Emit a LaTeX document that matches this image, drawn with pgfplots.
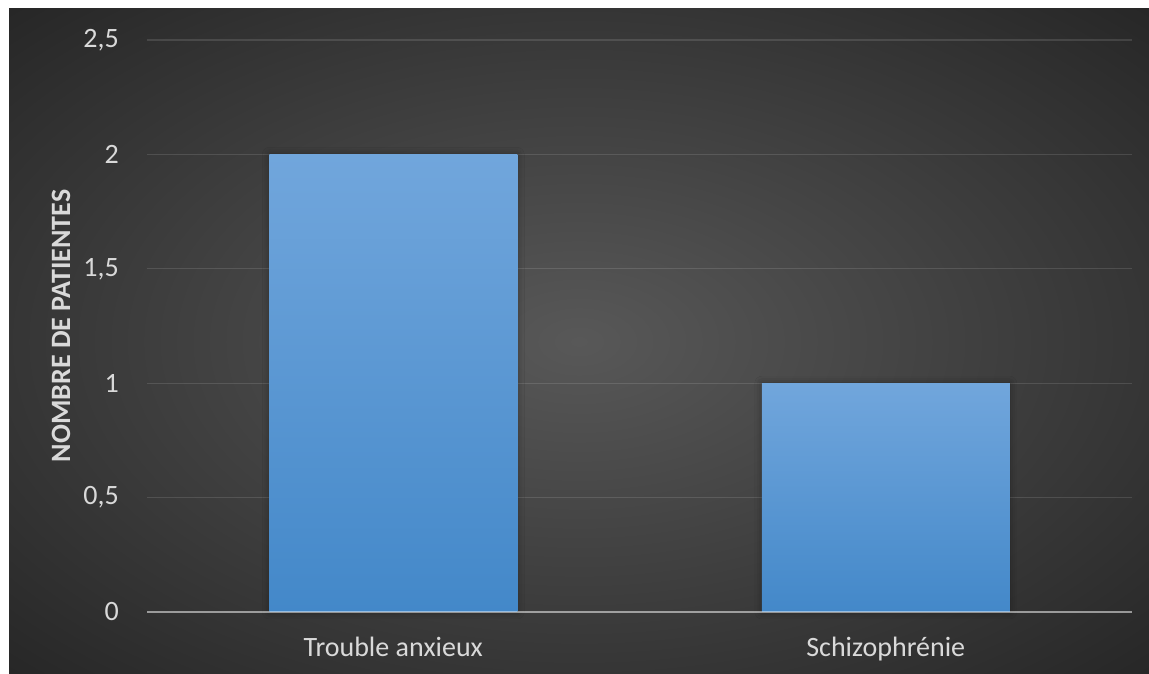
\documentclass[border=0pt]{standalone}
\usepackage{pgfplots}
\pgfplotsset{compat=1.18}
\usetikzlibrary{shadows.blur}
\usepackage{fontspec}
\setmainfont{Carlito}

\definecolor{bgin}{HTML}{585858}
\definecolor{bgout}{HTML}{262626}
\definecolor{bartop}{HTML}{71A6DC}
\definecolor{barbot}{HTML}{4388C9}
\definecolor{txt}{HTML}{D9D9D9}

% soft light centre fading to dark edges
\pgfdeclareradialshading{panelglow}{\pgfpoint{0bp}{0bp}}{%
  color(0bp)=(bgin); color(36bp)=(bgout); color(50bp)=(bgout)}

\pgfplotsset{
  barstyle/.style={ybar, draw=none, top color=bartop, bottom color=barbot,
    blur shadow={shadow xshift=0pt, shadow yshift=0pt, shadow blur radius=7pt,
      shadow opacity=35, shadow scale=1}},
}

\begin{document}
\begin{tikzpicture}
\path[use as bounding box] (0,0) rectangle (1149pt,674pt);
\fill[white] (0,0) rectangle (1149pt,674pt);
\shade[shading=panelglow] (9pt,0) rectangle (1149pt,665pt);
\begin{axis}[
  at={(147pt,62pt)}, anchor=south west,
  scale only axis, width=985pt, height=572pt,
  xmin=-0.5, xmax=1.5, ymin=0, ymax=2.5,
  xtick={0,1}, xticklabels={Trouble anxieux, Schizophrénie},
  ytick={0,0.5,1,1.5,2,2.5},
  yticklabels={0,{0,5},1,{1,5},2,{2,5}},
  axis x line=bottom, axis y line=left,
  x axis line style={draw=none},
  y axis line style={draw=none},
  major tick length=0pt,
  ymajorgrids,
  grid style={white, opacity=0.12, line width=1.3pt},
  yticklabel style={text=txt, font=\fontsize{28}{32}\selectfont, anchor=east, inner sep=0pt, xshift=-28pt},
  xticklabel style={text=txt, font=\fontsize{28}{32}\selectfont, anchor=base, inner sep=0pt, yshift=-45pt},
  ylabel={NOMBRE DE PATIENTES},
  every axis y label/.style={at={(axis description cs:-0.0873,0.5)}, rotate=90, anchor=center,
    text=txt, font=\bfseries\fontsize{28}{32}\selectfont},
  clip=false,
  ybar, bar width=248pt, bar shift=0pt,
]
% one plot per bar so each bar carries its own top-to-bottom gradient
\addplot[barstyle] coordinates {(0,2)};
\addplot[barstyle] coordinates {(1,1)};
% translucent baseline laid over the bar feet
\draw[white, opacity=0.45, line width=2pt] (rel axis cs:0,0) -- (rel axis cs:1,0);
\end{axis}
\end{tikzpicture}
\end{document}
